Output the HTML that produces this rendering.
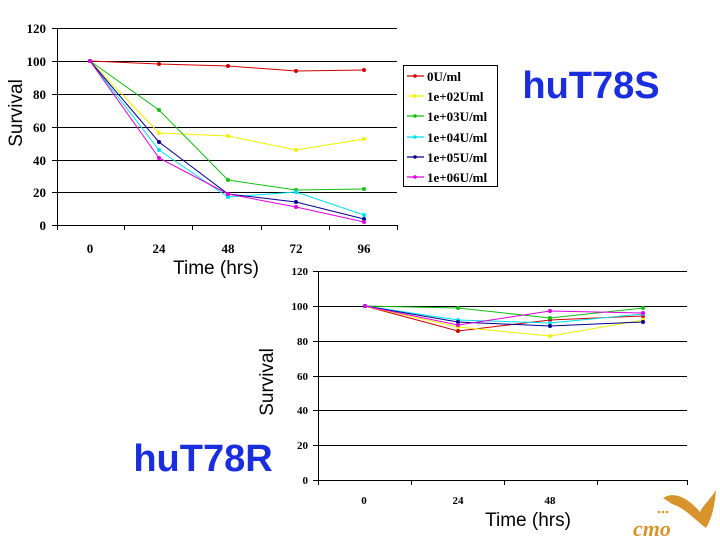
<!DOCTYPE html>
<html><head><meta charset="utf-8"><style>body{margin:0;background:#fff}svg{display:block}</style></head><body>
<svg width="720" height="540" xmlns="http://www.w3.org/2000/svg" font-family="Liberation Serif, serif">
<defs>
<marker id="mr" markerWidth="5" markerHeight="5" refX="2.5" refY="2.5" markerUnits="userSpaceOnUse"><circle cx="2.5" cy="2.5" r="2" fill="#d00000"/></marker>
<marker id="my" markerWidth="5" markerHeight="5" refX="2.5" refY="2.5" markerUnits="userSpaceOnUse"><circle cx="2.5" cy="2.5" r="2" fill="#f0f000"/></marker>
<marker id="mg" markerWidth="5" markerHeight="5" refX="2.5" refY="2.5" markerUnits="userSpaceOnUse"><circle cx="2.5" cy="2.5" r="2" fill="#10c010"/></marker>
<marker id="mc" markerWidth="5" markerHeight="5" refX="2.5" refY="2.5" markerUnits="userSpaceOnUse"><circle cx="2.5" cy="2.5" r="2" fill="#00e0f0"/></marker>
<marker id="mb" markerWidth="5" markerHeight="5" refX="2.5" refY="2.5" markerUnits="userSpaceOnUse"><circle cx="2.5" cy="2.5" r="2" fill="#000090"/></marker>
<marker id="mm" markerWidth="5" markerHeight="5" refX="2.5" refY="2.5" markerUnits="userSpaceOnUse"><circle cx="2.5" cy="2.5" r="2" fill="#e000e0"/></marker>
</defs>
<!-- Top chart -->
<g stroke="#000" stroke-width="1">
<line x1="57" y1="28.5" x2="397" y2="28.5"/>
<line x1="57" y1="61.5" x2="397" y2="61.5"/>
<line x1="57" y1="94.5" x2="397" y2="94.5"/>
<line x1="57" y1="127.5" x2="397" y2="127.5"/>
<line x1="57" y1="160.5" x2="397" y2="160.5"/>
<line x1="57" y1="192.5" x2="397" y2="192.5"/>
<line x1="52" y1="225.5" x2="397" y2="225.5"/>
<line x1="57.5" y1="28" x2="57.5" y2="230"/>
<line x1="52" y1="28.5" x2="57" y2="28.5"/><line x1="52" y1="61.5" x2="57" y2="61.5"/><line x1="52" y1="94.5" x2="57" y2="94.5"/><line x1="52" y1="127.5" x2="57" y2="127.5"/><line x1="52" y1="160.5" x2="57" y2="160.5"/><line x1="52" y1="192.5" x2="57" y2="192.5"/>
<line x1="124.5" y1="225" x2="124.5" y2="230"/><line x1="192.5" y1="225" x2="192.5" y2="230"/><line x1="261.5" y1="225" x2="261.5" y2="230"/><line x1="329.5" y1="225" x2="329.5" y2="230"/><line x1="397.5" y1="225" x2="397.5" y2="230"/>
</g>
<g font-size="13" font-weight="bold" text-anchor="end">
<text x="46" y="33">120</text><text x="46" y="66">100</text><text x="46" y="99">80</text><text x="46" y="132">60</text><text x="46" y="165">40</text><text x="46" y="197">20</text><text x="46" y="230">0</text>
</g>
<g font-size="13" font-weight="bold" text-anchor="middle">
<text x="90" y="253">0</text><text x="159" y="253">24</text><text x="228" y="253">48</text><text x="296" y="253">72</text><text x="364" y="253">96</text>
</g>
<text x="216" y="274" font-family="Liberation Sans, sans-serif" font-size="19" text-anchor="middle">Time (hrs)</text>
<text transform="translate(22,113) rotate(-90)" font-family="Liberation Sans, sans-serif" font-size="19" text-anchor="middle">Survival</text>
<g fill="none" stroke-width="1">
<polyline stroke="#d00000" marker-start="url(#mr)" marker-mid="url(#mr)" marker-end="url(#mr)" points="90,61 159,64 228,66 296,71 364,70"/>
<polyline stroke="#f0f000" marker-start="url(#my)" marker-mid="url(#my)" marker-end="url(#my)" points="90,61 159,133 228,136 296,150 364,139"/>
<polyline stroke="#10c010" marker-start="url(#mg)" marker-mid="url(#mg)" marker-end="url(#mg)" points="90,61 159,110 228,180 296,190 364,189"/>
<polyline stroke="#00e0f0" marker-start="url(#mc)" marker-mid="url(#mc)" marker-end="url(#mc)" points="90,61 159,150 228,197 296,192 364,215"/>
<polyline stroke="#000090" marker-start="url(#mb)" marker-mid="url(#mb)" marker-end="url(#mb)" points="90,61 159,142 228,194 296,202 364,219"/>
<polyline stroke="#e000e0" marker-start="url(#mm)" marker-mid="url(#mm)" marker-end="url(#mm)" points="90,61 159,158 228,194 296,207 364,222"/>
</g>
<!-- legend -->
<rect x="403.5" y="65.5" width="94" height="121" fill="#fff" stroke="#000"/>
<g stroke-width="1.2">
<line x1="407" y1="76" x2="424" y2="76" stroke="#d00000"/><circle cx="415" cy="76" r="1.8" fill="#d00000"/>
<line x1="407" y1="96" x2="424" y2="96" stroke="#f0f000"/><circle cx="415" cy="96" r="1.8" fill="#f0f000"/>
<line x1="407" y1="116" x2="424" y2="116" stroke="#10c010"/><circle cx="415" cy="116" r="1.8" fill="#10c010"/>
<line x1="407" y1="137" x2="424" y2="137" stroke="#00e0f0"/><circle cx="415" cy="137" r="1.8" fill="#00e0f0"/>
<line x1="407" y1="157" x2="424" y2="157" stroke="#000090"/><circle cx="415" cy="157" r="1.8" fill="#000090"/>
<line x1="407" y1="177" x2="424" y2="177" stroke="#e000e0"/><circle cx="415" cy="177" r="1.8" fill="#e000e0"/>
</g>
<g font-size="13" font-weight="bold">
<text x="427" y="81">0U/ml</text><text x="427" y="101">1e+02Uml</text><text x="427" y="121">1e+03U/ml</text><text x="427" y="142">1e+04U/ml</text><text x="427" y="162">1e+05U/ml</text><text x="427" y="182">1e+06U/ml</text>
</g>
<text x="591" y="98" font-family="Liberation Sans, sans-serif" font-size="38" font-weight="bold" fill="#1a2ee0" text-anchor="middle">huT78S</text>
<!-- Bottom chart -->
<g stroke="#000" stroke-width="1">
<line x1="313" y1="271.5" x2="687" y2="271.5"/>
<line x1="313" y1="306.5" x2="687" y2="306.5"/>
<line x1="313" y1="341.5" x2="687" y2="341.5"/>
<line x1="313" y1="376.5" x2="687" y2="376.5"/>
<line x1="313" y1="410.5" x2="687" y2="410.5"/>
<line x1="313" y1="445.5" x2="687" y2="445.5"/>
<line x1="313" y1="480.5" x2="688" y2="480.5"/>
<line x1="318.5" y1="271" x2="318.5" y2="485"/>
<line x1="411.5" y1="480" x2="411.5" y2="485"/><line x1="504.5" y1="480" x2="504.5" y2="485"/><line x1="597.5" y1="480" x2="597.5" y2="485"/><line x1="687.5" y1="480" x2="687.5" y2="485"/>
</g>
<g font-size="11" font-weight="bold" text-anchor="end">
<text x="308" y="275">120</text><text x="308" y="310">100</text><text x="308" y="345">80</text><text x="308" y="380">60</text><text x="308" y="414">40</text><text x="308" y="449">20</text><text x="308" y="484">0</text>
</g>
<g font-size="11" font-weight="bold" text-anchor="middle">
<text x="364" y="504">0</text><text x="458" y="504">24</text><text x="550" y="504">48</text>
</g>
<text x="528" y="526" font-family="Liberation Sans, sans-serif" font-size="19" text-anchor="middle">Time (hrs)</text>
<text transform="translate(273,382) rotate(-90)" font-family="Liberation Sans, sans-serif" font-size="19" text-anchor="middle">Survival</text>
<g fill="none" stroke-width="1">
<polyline stroke="#d00000" marker-start="url(#mr)" marker-mid="url(#mr)" marker-end="url(#mr)" points="365,306 458,331 550,320 643,316"/>
<polyline stroke="#f0f000" marker-start="url(#my)" marker-mid="url(#my)" marker-end="url(#my)" points="365,306 458,327 550,336 643,320"/>
<polyline stroke="#10c010" marker-start="url(#mg)" marker-mid="url(#mg)" marker-end="url(#mg)" points="365,306 458,308 550,318 643,308"/>
<polyline stroke="#00e0f0" marker-start="url(#mc)" marker-mid="url(#mc)" marker-end="url(#mc)" points="365,306 458,320 550,323 643,314"/>
<polyline stroke="#000090" marker-start="url(#mb)" marker-mid="url(#mb)" marker-end="url(#mb)" points="365,306 458,322 550,326 643,322"/>
<polyline stroke="#e000e0" marker-start="url(#mm)" marker-mid="url(#mm)" marker-end="url(#mm)" points="365,306 458,325 550,311 643,313"/>
</g>
<text x="203" y="471" font-family="Liberation Sans, sans-serif" font-size="38" font-weight="bold" fill="#1a2ee0" text-anchor="middle">huT78R</text>
<!-- logo -->
<path d="M663,498 C675,490 690,500 700,512 C703,505 710,500 716,490 C715,505 712,518 706,528 C695,520 685,508 672,504 Z" fill="#d8942c"/>
<text x="633" y="536" font-family="Liberation Serif, serif" font-style="italic" font-weight="bold" font-size="22" fill="#d8942c">cmo</text>
<g fill="#d8942c"><circle cx="659" cy="512" r="1.3"/><circle cx="663" cy="512" r="1.3"/><circle cx="667" cy="512" r="1.3"/></g>
</svg>
</body></html>
